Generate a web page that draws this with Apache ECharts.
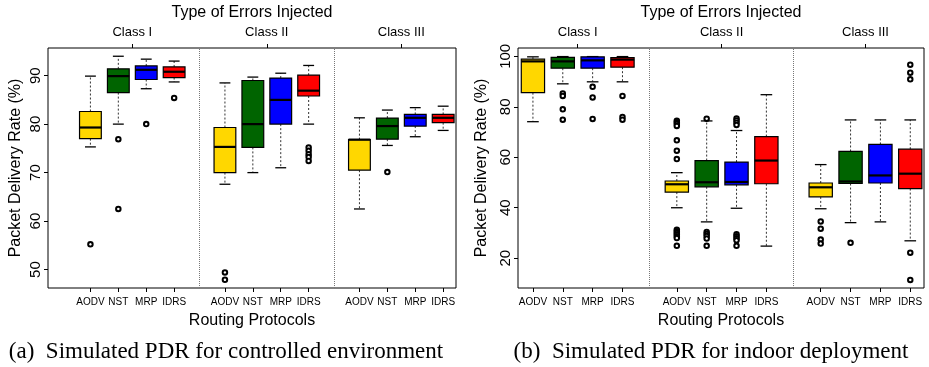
<!DOCTYPE html>
<html>
<head>
<meta charset="utf-8">
<script src="https://cdn.jsdelivr.net/npm/echarts@6/dist/echarts.min.js"></script>
<style>html,body{margin:0;padding:0;background:#fff}#c{width:929px;height:367px}</style>
</head>
<body>
<div id="c"></div>
<script>
// ---- data ----
const protocols = ['AODV', 'NST', 'MRP', 'IDRS'];
const classes = ['Class I', 'Class II', 'Class III'];
const leftTicks = [50, 60, 70, 80, 90];
const rightTicks = [20, 40, 60, 80, 100];

// [min, Q1, median, Q3, max] per protocol, per class — controlled environment
const ctrlClassI   = [[75.3, 77.0, 79.3, 82.6, 89.9], [80.0, 86.5, 89.9, 91.4, 94.0], [87.3, 89.2, 91.2, 92.0, 93.4], [88.7, 89.6, 90.8, 91.8, 93.0]];
const ctrlClassII  = [[67.6, 70.0, 75.3, 79.3, 88.5], [70.0, 75.2, 80.0, 89.0, 89.7], [71.0, 80.0, 85.0, 89.5, 90.5], [80.0, 85.8, 86.9, 90.1, 92.1]];
const ctrlClassIII = [[62.5, 70.5, 76.8, 76.8, 81.3], [75.6, 76.9, 79.6, 81.25, 82.9], [77.4, 79.6, 81.3, 82.0, 83.4], [78.7, 80.3, 81.3, 82.0, 83.7]];
const ctrlOutI   = [[55.2], [76.9, 62.5], [80.0], [85.4]];
const ctrlOutII  = [[49.4, 47.9], [], [], [75.2, 74.5, 73.8, 73.2, 72.4]];
const ctrlOutIII = [[], [70.1], [], []];

// indoor deployment
const indoorClassI   = [[74.1, 85.6, 98.0, 98.9, 99.8], [89.1, 95.3, 98.0, 99.6, 99.9], [89.9, 95.3, 98.4, 99.8, 99.9], [89.9, 95.7, 98.7, 99.5, 99.9]];
const indoorClassII  = [[40.0, 46.2, 49.3, 50.6, 53.9], [34.4, 48.3, 50.1, 58.7, 74.4], [39.8, 49.1, 50.2, 58.1, 70.6], [24.8, 49.5, 58.7, 68.2, 84.8]];
const indoorClassIII = [[39.6, 44.3, 48.1, 49.8, 57.1], [34.1, 49.6, 50.4, 62.3, 74.8], [34.4, 49.8, 52.8, 65.1, 74.8], [26.9, 47.6, 53.5, 63.2, 74.8]];
const indoorOutI   = [[], [85.3, 84.3, 79.0, 74.9], [87.9, 83.7, 75.2], [84.3, 76.0, 74.9]];
const indoorOutII  = [[74.5, 73.9, 73.2, 72.4, 66.7, 62.6, 59.3, 31.3, 30.7, 30.0, 29.4, 28.7, 28.0, 24.9], [75.3, 30.4, 29.6, 28.8, 27.8, 24.9], [75.4, 74.6, 73.7, 72.8, 29.5, 28.7, 27.9, 27.1, 24.9], []];
const indoorOutIII = [[34.6, 31.7, 27.4, 25.8], [26.1], [], [96.7, 93.5, 90.9, 22.2, 11.4]];

// ---- layout helpers ----
const colors = ['#FFD700', '#006400', '#0000FF', '#FF0000'];
const GROUP_STEP = 4.82;
const pos = (g, p) => 1 + p + GROUP_STEP * g;
const protoPositions = [];
const protoNames = [];
classes.forEach((c, g) => protocols.forEach((n, p) => { protoPositions.push(pos(g, p)); protoNames.push(n); }));
const classCenters = classes.map((c, g) => (pos(g, 0) + pos(g, 3)) / 2);
const dividers = [0, 1].map(g => (pos(g, 3) + pos(g + 1, 0)) / 2);

function nameAt(v, list, names) {
  let best = 0, d = Infinity;
  list.forEach((x, i) => { const dd = Math.abs(x - v); if (dd < d) { d = dd; best = i; } });
  return names[best];
}

function boxData(groups) {
  const out = [];
  groups.forEach((grp, g) => grp.forEach((s, p) => out.push([pos(g, p), s[0], s[1], s[2], s[3], s[4], p])));
  return out;
}
function outlierData(groups) {
  const out = [];
  groups.forEach((grp, g) => grp.forEach((vals, p) => vals.forEach(v => out.push([pos(g, p), v]))));
  return out;
}

function renderBox(params, api) {
  const x = api.value(0);
  const mn = api.value(1), q1 = api.value(2), md = api.value(3), q3 = api.value(4), mx = api.value(5);
  const ci = api.value(6);
  const halfW = api.size([0.78, 0])[0] / 2;
  const capHalf = api.size([0.39, 0])[0] / 2;
  const pMin = api.coord([x, mn]), pQ1 = api.coord([x, q1]), pMd = api.coord([x, md]), pQ3 = api.coord([x, q3]), pMx = api.coord([x, mx]);
  const cx = pMin[0];
  const dash = { stroke: '#333', lineWidth: 1, lineDash: [2, 2] };
  const solid = { stroke: '#000', lineWidth: 1.3 };
  return {
    type: 'group',
    children: [
      { type: 'line', shape: { x1: cx, y1: pQ3[1], x2: cx, y2: pMx[1] }, style: dash },
      { type: 'line', shape: { x1: cx, y1: pQ1[1], x2: cx, y2: pMin[1] }, style: dash },
      { type: 'line', shape: { x1: cx - capHalf, y1: pMx[1], x2: cx + capHalf, y2: pMx[1] }, style: solid },
      { type: 'line', shape: { x1: cx - capHalf, y1: pMin[1], x2: cx + capHalf, y2: pMin[1] }, style: solid },
      { type: 'rect', shape: { x: cx - halfW, y: pQ3[1], width: 2 * halfW, height: pQ1[1] - pQ3[1] },
        style: { fill: colors[ci], stroke: '#000', lineWidth: 1.2 } },
      { type: 'line', shape: { x1: cx - halfW, y1: pMd[1], x2: cx + halfW, y2: pMd[1] }, style: { stroke: '#000', lineWidth: 2.2 } }
    ]
  };
}

const FONT = 'Liberation Sans, Arial, sans-serif';

function panel(gi, xmin, ymin, ymax, yticks, yNameGap, boxes, outs) {
  const xAxes = [
    {
      gridIndex: gi, type: 'value', position: 'bottom', min: xmin, max: 14.1,
      axisLine: { show: false, onZero: false }, splitLine: { show: false },
      axisTick: { show: true, customValues: protoPositions, length: 4, lineStyle: { color: '#000' } },
      axisLabel: { show: true, customValues: protoPositions, formatter: v => nameAt(v, protoPositions, protoNames),
        fontSize: 10, color: '#000', fontFamily: FONT, margin: 9 },
      name: 'Routing Protocols', nameLocation: 'middle', nameGap: 25,
      nameTextStyle: { fontSize: 16, color: '#000', fontFamily: FONT }
    },
    {
      gridIndex: gi, type: 'value', position: 'top', min: xmin, max: 14.1,
      axisLine: { show: false, onZero: false }, splitLine: { show: false },
      axisTick: { show: true, customValues: classCenters, length: 4, lineStyle: { color: '#000' } },
      axisLabel: { show: true, customValues: classCenters, formatter: v => nameAt(v, classCenters, classes),
        fontSize: 13, color: '#000', fontFamily: FONT, margin: 9 },
      name: 'Type of Errors Injected', nameLocation: 'middle', nameGap: 27,
      nameTextStyle: { fontSize: 16, color: '#000', fontFamily: FONT }
    }
  ];
  const yAxis = {
    gridIndex: gi, type: 'value', min: ymin, max: ymax,
    axisLine: { show: false, onZero: false }, splitLine: { show: false },
    axisTick: { show: true, customValues: yticks, length: 4, lineStyle: { color: '#000' } },
    axisLabel: { show: true, customValues: yticks, rotate: 90, fontSize: 15, color: '#000', fontFamily: FONT, margin: 5 },
    name: 'Packet Delivery Rate (%)', nameLocation: 'middle', nameGap: yNameGap,
    nameTextStyle: { fontSize: 16, color: '#000', fontFamily: FONT }
  };
  const series = [
    {
      type: 'custom', xAxisIndex: gi * 2, yAxisIndex: gi, renderItem: renderBox,
      encode: { x: 0, y: [1, 2, 3, 4, 5] }, data: boxData(boxes), silent: true, z: 3
    },
    {
      type: 'scatter', xAxisIndex: gi * 2, yAxisIndex: gi, data: outlierData(outs),
      symbol: 'emptyCircle', symbolSize: 4.5, silent: true, z: 4,
      itemStyle: { color: '#000', borderColor: '#000', borderWidth: 1, opacity: 1 },
      markLine: {
        silent: true, symbol: ['none', 'none'], label: { show: false },
        lineStyle: { type: 'dotted', color: '#777', width: 1 },
        data: dividers.map(d => ({ xAxis: d }))
      }
    }
  ];
  return { xAxes, yAxis, series };
}

const L = panel(0, -0.52, 46.2, 95.7, leftTicks, 24, [ctrlClassI, ctrlClassII, ctrlClassIII], [ctrlOutI, ctrlOutII, ctrlOutIII]);
const R = panel(1, 0.5, 8.2, 103.3, rightTicks, 28, [indoorClassI, indoorClassII, indoorClassIII], [indoorOutI, indoorOutII, indoorOutIII]);

const chart = echarts.init(document.getElementById('c'), null, { renderer: 'canvas' });
chart.setOption({
  animation: false,
  backgroundColor: '#fff',
  grid: [
    { left: 48, right: 473, top: 46, bottom: 79, show: true, borderColor: '#000', borderWidth: 1, backgroundColor: 'transparent' },
    { left: 518, right: 5, top: 46, bottom: 79, show: true, borderColor: '#000', borderWidth: 1, backgroundColor: 'transparent' }
  ],
  xAxis: [...L.xAxes, ...R.xAxes],
  yAxis: [L.yAxis, R.yAxis],
  series: [...L.series, ...R.series],
  graphic: [
    { type: 'text', x: 226, y: 352, style: { text: '(a)  Simulated PDR for controlled environment', font: '23px "Liberation Serif", "Times New Roman", serif', fill: '#000', align: 'center', verticalAlign: 'middle' } },
    { type: 'text', x: 711, y: 352, style: { text: '(b)  Simulated PDR for indoor deployment', font: '23px "Liberation Serif", "Times New Roman", serif', fill: '#000', align: 'center', verticalAlign: 'middle' } }
  ]
});
</script>
</body>
</html>
